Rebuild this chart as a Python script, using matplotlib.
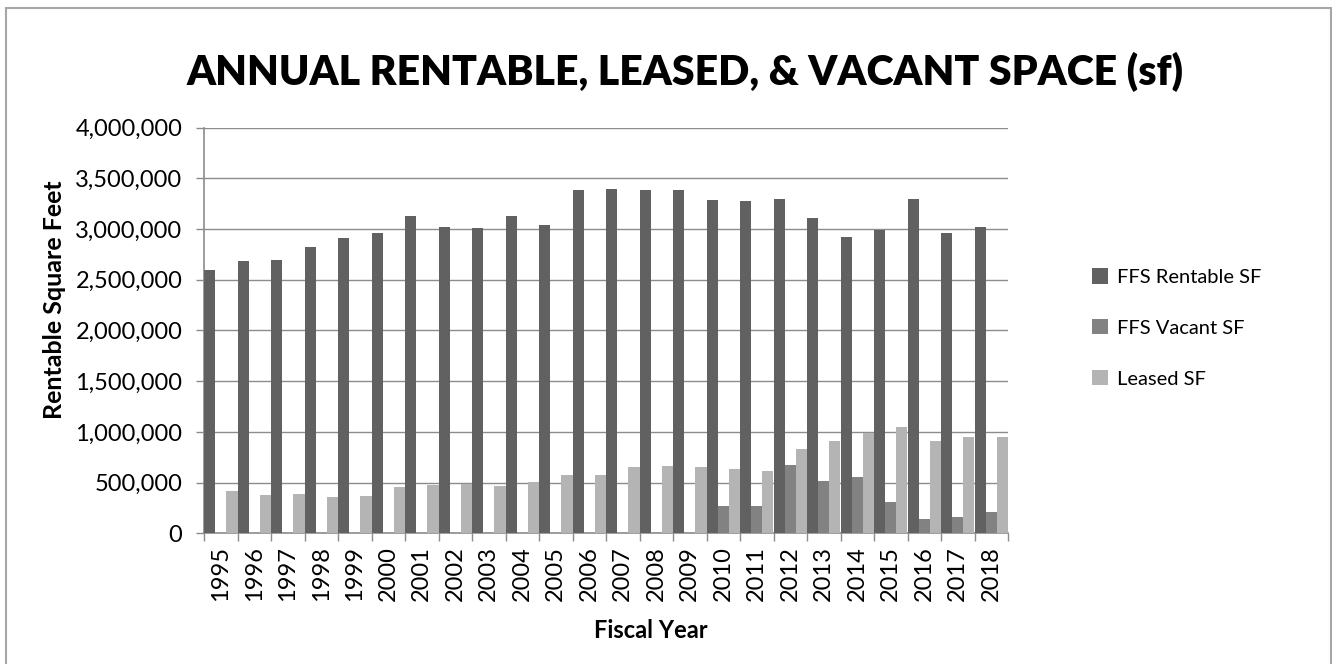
import matplotlib
matplotlib.use("Agg")
import matplotlib.pyplot as plt
import numpy as np
from matplotlib.ticker import FuncFormatter, MultipleLocator
from matplotlib.patches import Rectangle

years = [str(y) for y in range(1995, 2019)]
rentable = [2594000, 2680000, 2690000, 2818000, 2910000, 2960000, 3128000, 3016000,
            3009000, 3125000, 3039000, 3385000, 3398000, 3385000, 3385000, 3286000,
            3276000, 3293000, 3105000, 2924000, 2993000, 3296000, 2960000, 3016000]
vacant = [0, 0, 0, 0, 0, 0, 0, 0, 0, 0, 0, 0, 0, 0, 0, 274000,
          274000, 676000, 514000, 557000, 313000, 142000, 158000, 211000]
leased = [419000, 376000, 386000, 359000, 369000, 455000, 475000, 485000,
          471000, 508000, 574000, 574000, 656000, 666000, 653000, 636000,
          610000, 834000, 913000, 986000, 1045000, 913000, 946000, 946000]
series_names = ["FFS Rentable SF", "FFS Vacant SF", "Leased SF"]
colors = ["#616161", "#828282", "#b4b4b4"]

plt.rcParams['font.family'] = ['Lato', 'DejaVu Sans']

W, H = 1332, 664
fig = plt.figure(figsize=(W / 100, H / 100), dpi=100)
ax = fig.add_axes([204 / W, 1 - 533.3 / H, (1008 - 204) / W, (533.3 - 127.5) / H])

x = np.arange(len(years))
bw = 1 / 3
for k, (vals, name, c) in enumerate(zip([rentable, vacant, leased], series_names, colors)):
    ax.bar(x + (k - 1) * bw, vals, width=bw, color=c, label=name, zorder=3)

ax.set_xlim(-0.5, len(years) - 0.5)
ax.set_ylim(0, 4000000)
ax.yaxis.set_major_locator(MultipleLocator(500000))
ax.yaxis.set_major_formatter(FuncFormatter(lambda v, p: f"{int(v):,}"))
ax.grid(axis='y', color='#8c8c8c', linewidth=1.0, zorder=0)
ax.set_axisbelow(True)

ax.set_xticks(x)
ax.set_xticklabels(years, rotation=90, fontsize=17)
ax.set_xticks(np.arange(-0.5, len(years)), minor=True)
ax.tick_params(axis='x', which='major', length=0, pad=9)
ax.tick_params(axis='x', which='minor', length=5.5, color='#8c8c8c', width=1)
ax.tick_params(axis='y', length=5.5, color='#8c8c8c', width=1, labelsize=17, pad=10)

for s in ['top', 'right']:
    ax.spines[s].set_visible(False)
for s in ['left', 'bottom']:
    ax.spines[s].set_color('#8c8c8c')
    ax.spines[s].set_linewidth(1.2)

fig.text(685 / W, 1 - 72 / H, "ANNUAL RENTABLE, LEASED, & VACANT SPACE (sf)",
         ha='center', va='center', fontsize=29.5, fontweight='heavy')
fig.text(55 / W, 1 - 300 / H, "Rentable Square Feet", rotation=90,
         ha='center', va='center', fontsize=18, fontweight='bold')
fig.text(651 / W, 1 - 631 / H, "Fiscal Year",
         ha='center', va='center', fontsize=17, fontweight='bold')

leg = fig.legend(loc='upper left', bbox_to_anchor=(1074 / W, 1 - 250 / H),
                 frameon=False, fontsize=14.5, handlelength=0.8, handleheight=0.8,
                 handletextpad=0.45, labelspacing=1.65)

fig.patches.append(Rectangle((6 / W, -0.05), (1331 - 6) / W, 1.05 - 8 / H,
                             transform=fig.transFigure, fill=False,
                             edgecolor='#a6a6a6', linewidth=1.5))

fig.savefig("out.png", dpi=100)
